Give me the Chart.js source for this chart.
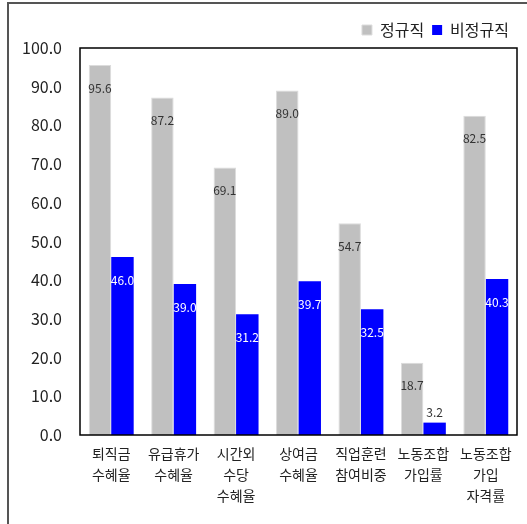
<!DOCTYPE html>
<html>
<head>
<meta charset="utf-8">
<script src="https://cdn.jsdelivr.net/npm/chart.js@4"></script>
<style>
    body { margin: 0; background: #fff; }
    #frame {
        position: absolute; left: 7px; top: 2px; width: 600px; height: 600px;
        border-top: 2px solid #555; border-left: 2px solid #555;
    }
    #wrap { position: absolute; left: 0; top: 0; width: 527px; height: 524px; }
</style>
</head>
<body>
<div id="frame"></div>
<div id="wrap"><canvas id="benefitChart"></canvas></div>
<script>
const categories = [
    ['퇴직금', '수혜율'],
    ['유급휴가', '수혜율'],
    ['시간외', '수당', '수혜율'],
    ['상여금', '수혜율'],
    ['직업훈련', '참여비중'],
    ['노동조합', '가입률'],
    ['노동조합', '가입', '자격률']
];
const regularValues = [95.6, 87.2, 69.1, 89.0, 54.7, 18.7, 82.5];
const irregularValues = [46.0, 39.0, 31.2, 39.7, 32.5, 3.2, 40.3];
const yTicks = [0, 10, 20, 30, 40, 50, 60, 70, 80, 90, 100];

const FONT = '"Noto Sans CJK KR", "Noto Sans", sans-serif';

// box around the plot area + value labels on bars
const plotBox = {
    id: 'plotBox',
    afterDatasetsDraw(chart) {
        const ctx = chart.ctx;
        const a = chart.chartArea;
        ctx.save();
        ctx.strokeStyle = '#000';
        ctx.lineWidth = 1.5;
        ctx.strokeRect(a.left, a.top, a.right - a.left, a.bottom - a.top);

        ctx.font = '12px ' + FONT;
        ctx.textAlign = 'center';
        ctx.textBaseline = 'middle';
        chart.data.datasets.forEach((ds, i) => {
            const meta = chart.getDatasetMeta(i);
            meta.data.forEach((bar, j) => {
                const h = bar.base - bar.y;
                let y, color;
                if (h > 35) {
                    y = bar.y + 23;
                    color = i === 0 ? '#333' : '#fff';
                } else {
                    y = bar.y - 10;
                    color = '#333';
                }
                ctx.fillStyle = color;
                ctx.fillText(ds.data[j].toFixed(1), bar.x, y);
            });
        });
        ctx.restore();
    }
};

const ctx = document.getElementById('benefitChart').getContext('2d');
new Chart(ctx, {
    type: 'bar',
    data: {
        labels: categories,
        datasets: [{
            label: '정규직',
            data: regularValues,
            backgroundColor: '#c0c0c0',
            borderColor: '#dcdcdc',
            borderWidth: 1,
            categoryPercentage: 0.72,
            barPercentage: 1.0
        }, {
            label: '비정규직',
            data: irregularValues,
            backgroundColor: '#0000ff',
            categoryPercentage: 0.72,
            barPercentage: 1.0
        }]
    },
    options: {
        responsive: true,
        maintainAspectRatio: false,
        animation: false,
        layout: { padding: { left: 0, right: 10, top: 14, bottom: 0 } },
        plugins: {
            tooltip: { enabled: false },
            legend: {
                position: 'top',
                align: 'end',
                labels: {
                    boxWidth: 10,
                    boxHeight: 10,
                    padding: 8,
                    color: '#222',
                    font: { family: FONT, size: 16 }
                }
            }
        },
        scales: {
            x: {
                grid: { display: false, drawTicks: false },
                border: { display: false },
                ticks: {
                    color: '#222',
                    padding: 8,
                    maxRotation: 0,
                    autoSkip: false,
                    font: { family: FONT, size: 14, lineHeight: 1.5 }
                },
                afterFit(scale) { scale.height = 89; }
            },
            y: {
                min: 0,
                max: 100,
                grid: { display: false, drawTicks: false },
                border: { display: false },
                afterBuildTicks(scale) {
                    scale.ticks = yTicks.map(v => ({ value: v }));
                },
                ticks: {
                    color: '#222',
                    padding: 18,
                    font: { family: FONT, size: 16 },
                    callback: v => v.toFixed(1)
                },
                afterFit(scale) { scale.width = 80; }
            }
        }
    },
    plugins: [plotBox]
});
</script>
</body>
</html>
